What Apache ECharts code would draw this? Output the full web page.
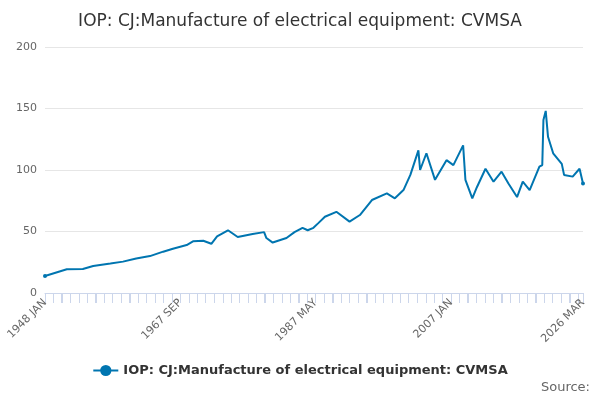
<!DOCTYPE html>
<html>
<head>
<meta charset="utf-8">
<script src="https://cdn.jsdelivr.net/npm/echarts@6/dist/echarts.min.js"></script>
<style>html,body{margin:0;padding:0;background:#fff}#chart{width:600px;height:400px}</style>
</head>
<body>
<div id="chart"></div>
<script>
const MONTHS = ['JAN','FEB','MAR','APR','MAY','JUN','JUL','AUG','SEP','OCT','NOV','DEC'];

// readings taken off the chart: [year, month (1-12), value]
const readings = [
  [1948, 1, 13.8], [1951, 3, 19.3], [1953, 7, 19.5], [1955, 1, 22],
  [1957, 7, 24], [1959, 5, 25.5], [1961, 4, 28], [1963, 4, 30],
  [1965, 3, 33.6], [1966, 8, 36], [1968, 8, 39], [1969, 7, 42],
  [1971, 1, 42.5], [1972, 3, 40], [1973, 1, 46], [1974, 8, 51],
  [1976, 1, 45.5], [1978, 3, 48], [1979, 11, 49.5], [1980, 3, 44.7],
  [1981, 2, 41], [1983, 2, 44.7], [1984, 4, 49.5], [1985, 6, 53],
  [1986, 3, 51], [1987, 1, 53], [1987, 10, 57], [1988, 9, 62],
  [1990, 5, 66], [1992, 4, 58], [1993, 10, 63.4], [1995, 7, 75.6],
  [1997, 9, 81], [1998, 11, 77], [2000, 2, 83.7], [2001, 2, 96],
  [2002, 4, 116], [2002, 7, 100], [2003, 6, 113.6], [2004, 9, 92],
  [2006, 5, 108], [2007, 5, 104], [2008, 10, 120], [2009, 2, 92],
  [2010, 2, 77], [2010, 10, 86], [2012, 1, 101], [2013, 3, 90.5],
  [2014, 5, 98.6], [2015, 5, 89], [2016, 8, 78], [2017, 6, 90.5],
  [2018, 6, 83.7], [2019, 11, 102.7], [2020, 4, 104], [2020, 6, 140.6],
  [2020, 10, 148], [2021, 2, 127], [2021, 11, 113.6], [2023, 2, 105],
  [2023, 6, 96], [2024, 9, 94.6], [2025, 9, 101], [2026, 3, 89]
];

const categories = [];
for (let y = 1948; y <= 2026; y++) {
  for (let m = 0; m < 12; m++) {
    if (y === 2026 && m > 2) break;
    categories.push(y + ' ' + MONTHS[m]);
  }
}
const values = categories.map(() => '-');
readings.forEach(([y, m, v]) => {
  values[(y - 1948) * 12 + (m - 1)] = v;
});
const last = categories.length - 1;

const chart = echarts.init(document.getElementById('chart'));
chart.setOption({
  animation: false,
  title: {
    text: 'IOP: CJ:Manufacture of electrical equipment: CVMSA',
    left: 'center', top: 8,
    textStyle: { fontFamily: 'DejaVu Sans', fontSize: 17, fontWeight: 'normal', color: '#333' }
  },
  legend: {
    bottom: 18,
    textStyle: { fontFamily: 'DejaVu Sans', fontSize: 13, fontWeight: 'bold', color: '#333' },
    itemWidth: 25
  },
  graphic: [{
    type: 'text', right: 10, bottom: 6,
    style: { text: 'Source:', fontFamily: 'DejaVu Sans', fontSize: 13, fill: '#666' }
  }],
  grid: { left: 45, right: 17, top: 47, bottom: 107 },
  xAxis: {
    type: 'category',
    data: categories,
    boundaryGap: false,
    axisLine: { lineStyle: { color: '#ccd6eb' } },
    axisTick: {
      lineStyle: { color: '#ccd6eb' }, length: 10,
      interval: (i) => i === last || Math.abs(i / 59 * 4 - Math.round(i / 59 * 4)) < 0.035
    },
    axisLabel: {
      rotate: 45, color: '#666', fontFamily: 'DejaVu Sans', fontSize: 11,
      interval: (i) => i % 236 === 0 || i === last
    }
  },
  yAxis: {
    type: 'value', min: 0, max: 200, interval: 50,
    axisLabel: { color: '#666', fontFamily: 'DejaVu Sans', fontSize: 11 },
    splitLine: { lineStyle: { color: '#e6e6e6' } }
  },
  series: [{
    name: 'IOP: CJ:Manufacture of electrical equipment: CVMSA',
    type: 'line',
    data: values,
    connectNulls: true,
    symbol: 'circle', symbolSize: 4,
    itemStyle: { color: '#0075b0' },
    lineStyle: { width: 2, color: '#0075b0' }
  }]
});
</script>
</body>
</html>
